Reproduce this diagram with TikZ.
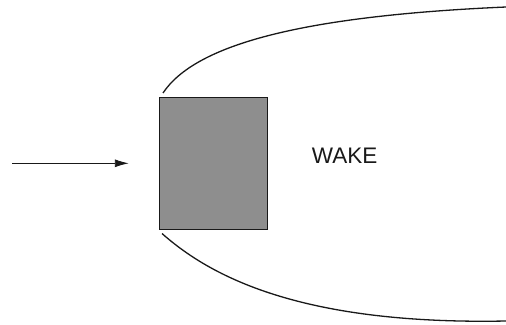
\documentclass[tikz,border=0pt]{standalone}
\usepackage{fontspec}
\setmainfont{Liberation Sans}
\usetikzlibrary{arrows.meta,positioning,calc}
\definecolor{bodygray}{RGB}{142,142,142}
\definecolor{linecolor}{RGB}{25,25,25}

\tikzset{
  wakeline/.style={line width=1.3pt, linecolor},
  flowarrow/.style={line width=0.9pt, linecolor, -{Latex[length=14pt,width=8pt]}}
}

\begin{document}
\begin{tikzpicture}[x=1pt, y=1pt]

\useasboundingbox (0,0) rectangle (506,-324);

% ================= BODY =================
\node[
draw=linecolor,
line width=1.4pt,
fill=bodygray,
minimum width=108pt,
minimum height=132pt,
inner sep=0pt
] (body) at (213.5,-163.3) {};

% ================= INCOMING FLOW =================
\coordinate (inflow) at (12,-163.3);
\draw[flowarrow, shorten >=30pt] (inflow) -- (body);

% ================= WAKE BOUNDARY =================
\coordinate (upstart) at (163,-93);
\coordinate (upend)   at (506,-7);
\coordinate (lowstart) at (162,-233.5);
\coordinate (lowend)   at (506,-321);

\draw[wakeline] (upstart) .. controls (195,-45) and (300,-16) .. (upend);
\draw[wakeline] (lowstart) .. controls (210,-276) and (300,-325) .. (lowend);

% label
\node[font=\fontsize{22.5}{27}\selectfont, text=linecolor] (wake) at (344.7,-155.5) {WAKE};

\end{tikzpicture}
\end{document}
